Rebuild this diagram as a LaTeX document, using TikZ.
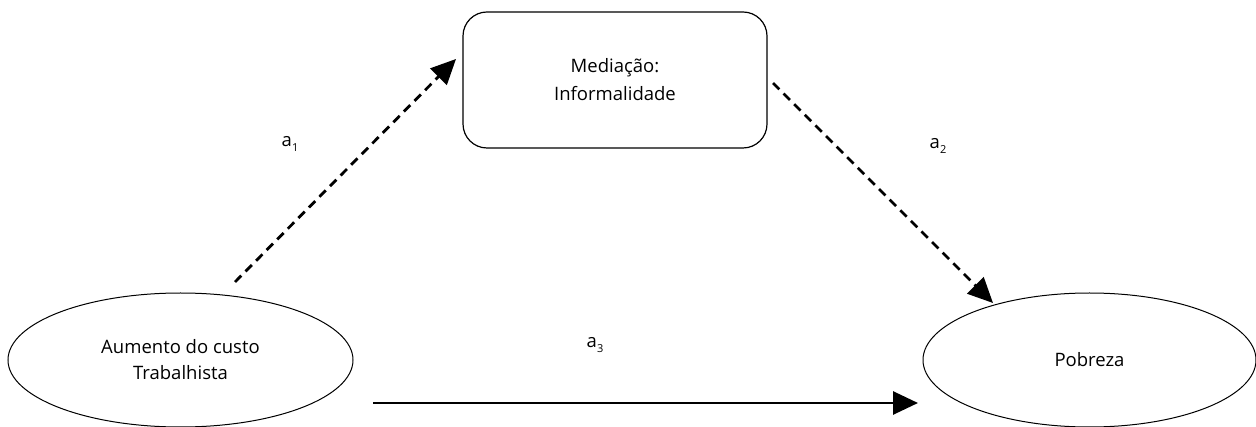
\documentclass[tikz,border=0pt]{standalone}
\usepackage{fontspec}
\setmainfont{Open Sans}
\usetikzlibrary{arrows.meta,shapes.geometric}
\tikzset{
  oval/.style={draw, line width=1pt, ellipse, inner sep=0pt, align=center, font=\fontsize{18.5}{26}\selectfont},
  rbox/.style={draw, line width=1.2pt, rounded corners=24pt, inner sep=0pt, align=center, font=\fontsize{18.5}{28}\selectfont},
  dasharrow/.style={line width=2.8pt, dash pattern=on 9pt off 6pt, -{Triangle[length=25pt,width=23pt]}},
  solidarrow/.style={line width=2.8pt, -{Triangle[length=25pt,width=23pt]}},
  lab/.style={font=\fontsize{18.5}{20}\selectfont, inner sep=0pt}
}
\newcommand{\lsub}[1]{a\raisebox{-0.55ex}{\fontsize{11}{11}\selectfont #1}}
\begin{document}
\begin{tikzpicture}[x=1pt,y=-1pt]
\useasboundingbox (0,0) rectangle (1256,427);
\node[rbox, minimum width=304pt, minimum height=136pt] (med) at (615,80) {Mediação:\\Informalidade};
\node[oval, minimum width=345pt, minimum height=134pt] (aum) at (180.5,360) {Aumento do custo\\Trabalhista};
\node[oval, minimum width=333pt, minimum height=134pt] (pob) at (1089.5,360) {Pobreza};
\coordinate (s1) at (235,282);
\coordinate (e1) at (456,59);
\coordinate (s2) at (773,83);
\coordinate (e2) at (993,303);
\coordinate (s3) at (373,403);
\coordinate (e3) at (918,403);
\draw[dasharrow] (s1) -- (e1);
\draw[dasharrow] (s2) -- (e2);
\draw[solidarrow] (s3) -- (e3);
\node[lab] (a1) at (290,144) {\lsub{1}};
\node[lab] (a2) at (938,146) {\lsub{2}};
\node[lab] (a3) at (595,345) {\lsub{3}};
\end{tikzpicture}
\end{document}
